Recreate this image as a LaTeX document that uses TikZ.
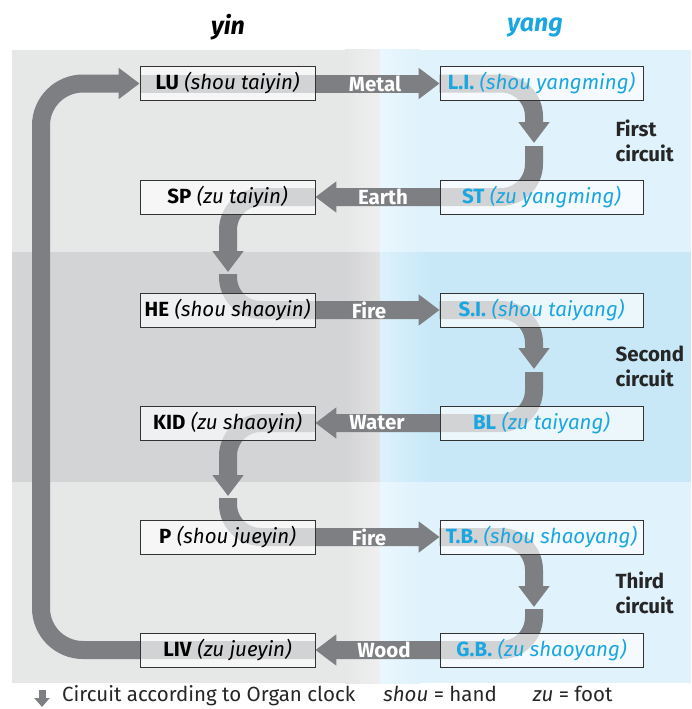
\documentclass[tikz,border=0pt]{standalone}
\usepackage{fontspec}
\setmainfont{Fira Sans}
\usetikzlibrary{arrows.meta}
\definecolor{arrowgray}{HTML}{7E7F82}
\definecolor{graylt}{HTML}{E6E7E7}
\definecolor{graylt2}{HTML}{EFEFEF}
\definecolor{graymid}{HTML}{D3D4D6}
\definecolor{graymid2}{HTML}{E1E1E2}
\definecolor{bluelt}{HTML}{E0F2FC}
\definecolor{bluelt2}{HTML}{EAF7FE}
\definecolor{bluemid}{HTML}{C8E8F8}
\definecolor{bluemid2}{HTML}{DDF1FB}
\definecolor{cyantext}{HTML}{1AA6E0}
\definecolor{boxline}{HTML}{333333}
\pgfdeclarelayer{bg}
\pgfdeclarelayer{arr}
\pgfsetlayers{bg,arr,main}
\tikzset{
  flow/.style={line width=18pt, draw=arrowgray, -{Triangle[width=30pt,length=21pt]}, rounded corners=33pt},
  boxbase/.style={draw=boxline, line width=0.8pt, fill=white, fill opacity=0.66, text opacity=1,
    minimum height=34pt, inner sep=0pt, font=\fontsize{20.5}{20.5}\selectfont},
  lbox/.style={boxbase, minimum width=175pt},
  rbox/.style={boxbase, minimum width=203pt, text=cyantext},
  lbl/.style={text=white, font=\bfseries\fontsize{20.5}{20.5}\selectfont, inner sep=0pt},
  side/.style={align=left, anchor=west, font=\bfseries\fontsize{20.5}{25}\selectfont, text=black!85},
  title/.style={font=\bfseries\itshape\fontsize{25}{25}\selectfont},
  legend/.style={anchor=west, font=\fontsize{20.5}{20.5}\selectfont, text=black!85, inner sep=0pt}
}
\begin{document}
\begin{tikzpicture}[x=1pt,y=-1pt]
\useasboundingbox (0,0) rectangle (691,709);
% backgrounds
\begin{pgfonlayer}{bg}
\fill[white] (0,0) rectangle (691,709);
\fill[graylt] (12,50) rectangle (380,252);
\shade[left color=graylt, right color=graylt2] (345,50) rectangle (380,252);
\fill[graymid] (12,252) rectangle (380,482);
\shade[left color=graymid, right color=graymid2] (345,252) rectangle (380,482);
\fill[graylt] (12,482) rectangle (380,683);
\shade[left color=graylt, right color=graylt2] (345,482) rectangle (380,683);
\fill[bluelt] (380,50) rectangle (691,252);
\shade[left color=bluelt2, right color=bluelt] (380,50) rectangle (420,252);
\fill[bluemid] (380,252) rectangle (691,482);
\shade[left color=bluemid2, right color=bluemid] (380,252) rectangle (430,482);
\fill[bluelt] (380,482) rectangle (691,683);
\shade[left color=bluelt2, right color=bluelt] (380,482) rectangle (420,683);
\end{pgfonlayer}
% titles
\node[title] (yin) at (228,27) {yin};
\node[title, text=cyantext] (yang) at (535,27) {yang};
% boxes
\node[lbox] (LU) at (227.5,83.5) {\textbf{LU} \textit{(shou taiyin)}};
\node[rbox] (LI) at (541.5,83.5) {\textbf{L.I.} \textit{(shou yangming)}};
\node[lbox] (SP) at (227.5,197) {\textbf{SP} \textit{(zu taiyin)}};
\node[rbox] (ST) at (541.5,197) {\textbf{ST} \textit{(zu yangming)}};
\node[lbox] (HE) at (227.5,310) {\textbf{HE} \textit{(shou shaoyin)}};
\node[rbox] (SI) at (541.5,310) {\textbf{S.I.} \textit{(shou taiyang)}};
\node[lbox] (KID) at (227.5,423) {\textbf{KID} \textit{(zu shaoyin)}};
\node[rbox] (BL) at (541.5,423) {\textbf{BL} \textit{(zu taiyang)}};
\node[lbox] (P) at (227.5,537) {\textbf{P} \textit{(shou jueyin)}};
\node[rbox] (TB) at (541.5,537) {\textbf{T.B.} \textit{(shou shaoyang)}};
\node[lbox] (LIV) at (227.5,650) {\textbf{LIV} \textit{(zu jueyin)}};
\node[rbox] (GB) at (541.5,650) {\textbf{G.B.} \textit{(zu shaoyang)}};
% turning points
\coordinate (r1) at (534,143);
\coordinate (r1b) at (534,146);
\coordinate (l1) at (228,272);
\coordinate (l1b) at (228,274);
\coordinate (r2) at (534,369);
\coordinate (r2b) at (534,372);
\coordinate (l2) at (228,496);
\coordinate (l2b) at (228,498);
\coordinate (r3) at (534,607);
\coordinate (r3b) at (534,609);
\coordinate (loopb) at (41,650);
\coordinate (loopt) at (41,83.5);
\coordinate (leg1) at (42,690);
\coordinate (leg2) at (42,707);
% arrows
\begin{pgfonlayer}{arr}
\draw[flow, rounded corners=42pt] (LIV.east) -- (loopb) -- (loopt) -- (LU.west);
\draw[flow] (LU.west) -- (LI.west);
\draw[flow] (LI.west) -| (r1);
\draw[flow] (r1b) |- (SP.east);
\draw[flow] (SP.east) -| (l1);
\draw[flow] (l1b) |- (SI.west);
\draw[flow] (SI.west) -| (r2);
\draw[flow] (r2b) |- (KID.east);
\draw[flow] (KID.east) -| (l2);
\draw[flow] (l2b) |- (TB.west);
\draw[flow] (TB.west) -| (r3);
\draw[flow] (r3b) |- (LIV.east);
\draw[line width=7pt, draw=arrowgray, -{Triangle[width=15pt,length=9pt]}] (leg1) -- (leg2);
\end{pgfonlayer}
% element labels
\node[lbl] (metal) at (375,83.5) {Metal};
\node[lbl] (earth) at (383,197) {Earth};
\node[lbl] (fire1) at (369,310) {Fire};
\node[lbl] (water) at (377,423) {Water};
\node[lbl] (fire2) at (369,537) {Fire};
\node[lbl] (wood) at (384,650) {Wood};
% side labels
\node[side] (c1) at (612,141) {First\\circuit};
\node[side] (c2) at (612,366) {Second\\circuit};
\node[side] (c3) at (612,593) {Third\\circuit};
% legend
\node[legend] (leg) at (62,696) {Circuit according to Organ clock\hspace{28pt}\textit{shou} = hand\hspace{36pt}\textit{zu} = foot};
\end{tikzpicture}
\end{document}
